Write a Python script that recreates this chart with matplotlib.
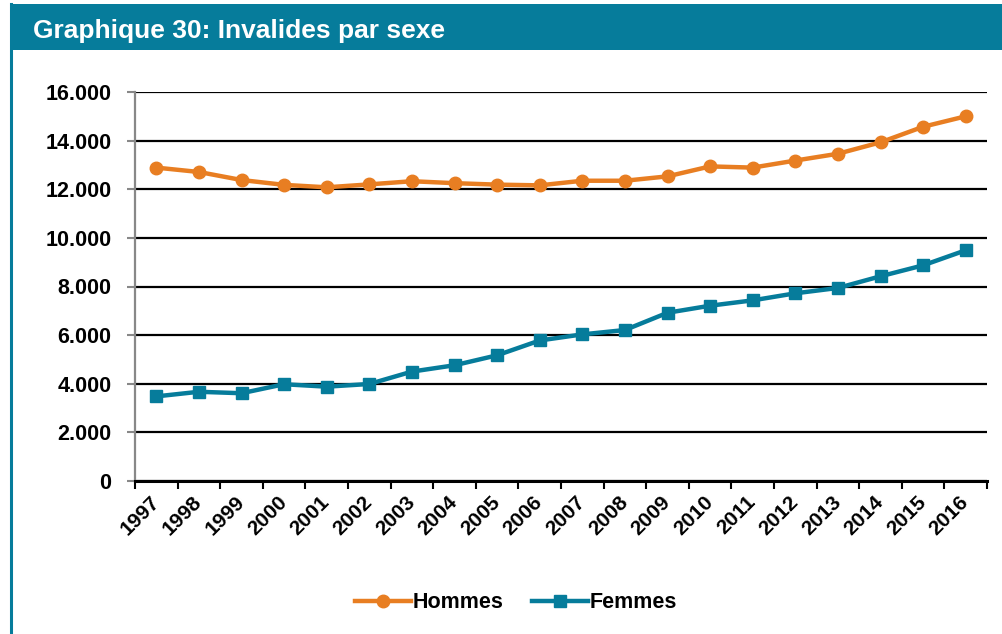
import matplotlib
matplotlib.use("Agg")
import matplotlib.pyplot as plt
from matplotlib.patches import Rectangle
from matplotlib.lines import Line2D
from matplotlib.ticker import FuncFormatter

plt.rcParams['font.family'] = ['Liberation Sans', 'DejaVu Sans']

years = [str(y) for y in range(1997, 2017)]
hommes = [12890, 12710, 12380, 12180, 12080, 12200, 12330, 12250, 12190, 12160,
          12350, 12350, 12530, 12940, 12890, 13180, 13460, 13930, 14570, 15000]
femmes = [3480, 3670, 3610, 3980, 3880, 3990, 4500, 4760, 5170, 5780,
          6030, 6210, 6920, 7210, 7430, 7720, 7940, 8420, 8870, 9490]

title = "Graphique 30: Invalides par sexe"
teal = '#067C9B'
orange = '#E87E22'

W, H = 1002, 634
fig = plt.figure(figsize=(W / 100, H / 100), dpi=100)

# frame: title bar and left border
fig.patches.append(Rectangle((10 / W, 1 - 50 / H), 1 - 10 / W, 46 / H,
                             transform=fig.transFigure, facecolor=teal,
                             edgecolor='none', zorder=0))
fig.add_artist(Line2D([11 / W, 11 / W], [0, 1 - 4 / H], transform=fig.transFigure,
                      color=teal, linewidth=2.2))
fig.text(33 / W, 1 - 31 / H, title, color='white', fontsize=19,
         fontweight='bold', va='center', ha='left')

ax = fig.add_axes([135 / W, 1 - 481 / H, (987 - 135) / W, (481 - 92) / H])

x = [i + 0.5 for i in range(len(years))]
ax.plot(x, hommes, color=orange, linewidth=3.2, marker='o', markersize=9,
        label='Hommes', zorder=3)
ax.plot(x, femmes, color=teal, linewidth=3.2, marker='s', markersize=8.5,
        label='Femmes', zorder=3)

ax.set_xlim(0, len(years))
ax.set_ylim(0, 16000)
ax.set_yticks(range(0, 16001, 2000))
ax.yaxis.set_major_formatter(FuncFormatter(
    lambda v, p: '0' if v == 0 else f"{int(v):,}".replace(',', '.')))
ax.grid(True, axis='y', color='black', linewidth=1.6, zorder=1)
ax.set_axisbelow(True)

ax.set_xticks(range(0, len(years) + 1))
ax.set_xticklabels([])
ax.set_xticks(x, minor=True)
ax.set_xticklabels(years, minor=True, rotation=45, ha='right', va='center',
                   rotation_mode='anchor', fontsize=15, fontweight='bold')
ax.tick_params(axis='x', which='minor', length=0, pad=13)
ax.tick_params(axis='x', which='major', length=6, width=1.5, color='black')
ax.tick_params(axis='y', length=6, width=1.5, color='#888888', labelsize=15.5,
               pad=11)
for lbl in ax.get_yticklabels():
    lbl.set_fontweight('bold')

for s in ['top', 'right']:
    ax.spines[s].set_visible(False)
ax.spines['left'].set_color('#888888')
ax.spines['left'].set_linewidth(1.6)
ax.spines['bottom'].set_color('black')
ax.spines['bottom'].set_linewidth(2.2)

leg = fig.legend(loc='center', bbox_to_anchor=(516 / W, 1 - 603 / H), ncol=2,
                 frameon=False, prop={'weight': 'bold', 'size': 15.5},
                 handlelength=2.6, handletextpad=0.1, columnspacing=1.3)

fig.savefig('out.png', dpi=100)
